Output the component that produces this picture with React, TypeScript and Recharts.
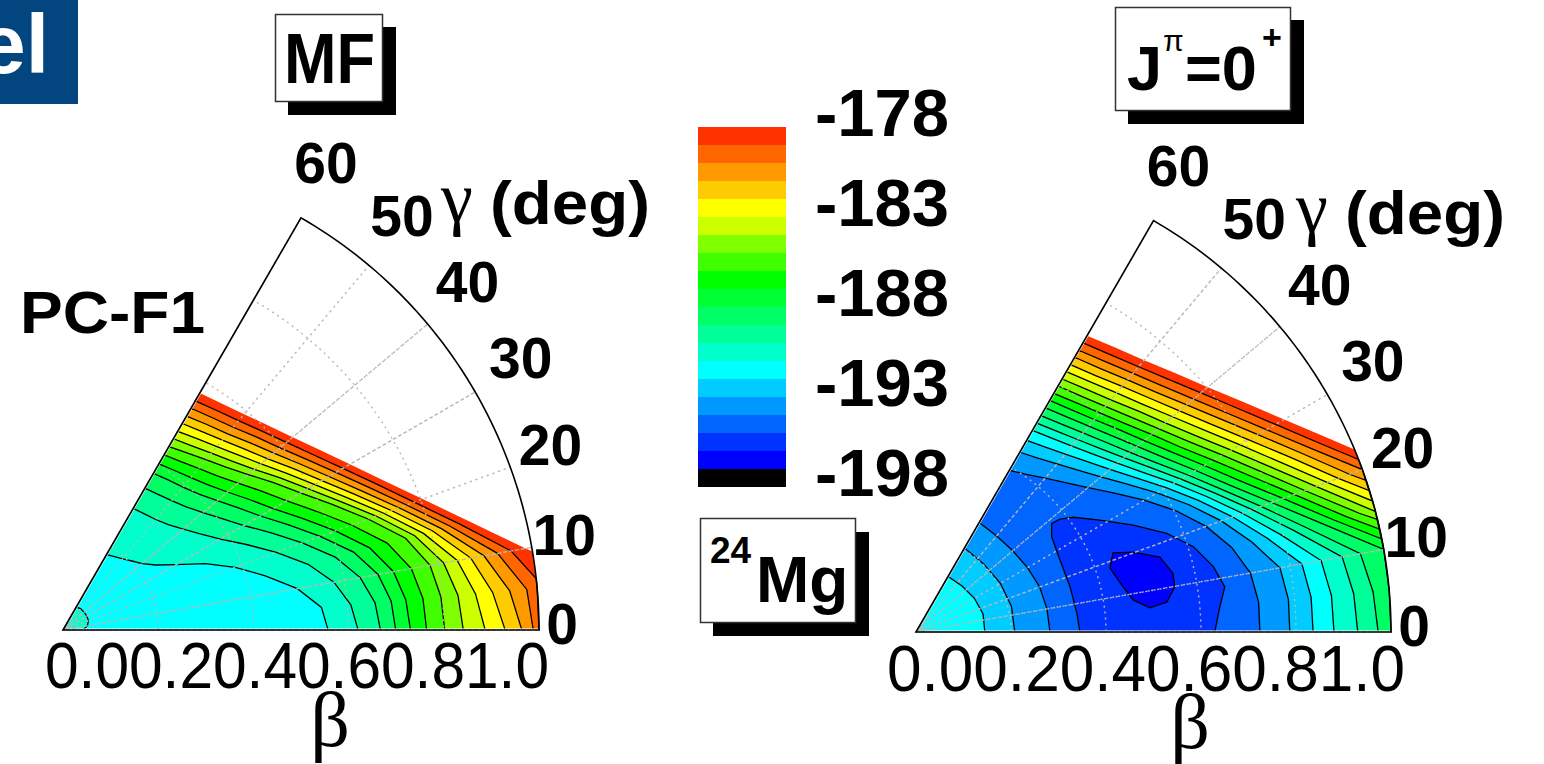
import React from 'react';
import {
  RadarChart,
  Radar,
  PolarAngleAxis,
  PolarRadiusAxis,
  BarChart,
  Bar,
  XAxis,
  YAxis,
  Cell,
} from 'recharts';

type Pt = [number, number]; // [gamma in deg, beta]
type Kind = 'wedge' | 'ring' | 'cap' | 'island';

interface Contour {
  level: number;
  kind: Kind;
  pts: Pt[];
  inner?: Pt[];
}

interface Row {
  g: number;
  b?: number | null;
  id?: string;
}

const W = 1544;
const H = 764;
const SANS = '"Liberation Sans", Arial, sans-serif';
const SERIF = '"Liberation Serif", "Times New Roman", serif';

const GAMMA_TICKS = [0, 10, 20, 30, 40, 50, 60];
const BETA_TICKS = [0, 0.2, 0.4, 0.6, 0.8, 1.0];

// one colour per 1 MeV band, from -178 down to -198
const BAND_COLORS = [
  '#ff3300', '#ff6600', '#ff9900', '#ffcc00', '#ffff00',
  '#ccff00', '#80ff00', '#40ff00', '#00ff00', '#00ff33',
  '#00ff66', '#00ff99', '#00ffcc', '#00ffff', '#00ccff',
  '#0099ff', '#0066ff', '#0033ff', '#0000ff', '#000000',
];

const COLORBAR_LEVELS = [
  -178, -179, -180, -181, -182, -183, -184, -185, -186, -187, -188,
  -189, -190, -191, -192, -193, -194, -195, -196, -197, -198,
];

// mean-field surface (left)
const MF_CONTOURS: Contour[] = [
  { level: -178, kind: 'wedge', pts: [[0, 1], [5, 1], [9.5, 1], [10, 0.987], [15, 0.883], [20, 0.804], [25, 0.743], [30, 0.696], [35, 0.659], [40, 0.63], [45, 0.608], [50, 0.592], [55, 0.581], [60, 0.575]] },
  { level: -179, kind: 'wedge', pts: [[0, 1], [5, 1], [6.2, 1], [10, 0.956], [15, 0.862], [20, 0.785], [25, 0.726], [30, 0.679], [35, 0.642], [40, 0.613], [45, 0.591], [50, 0.574], [55, 0.563], [60, 0.556]] },
  { level: -180, kind: 'wedge', pts: [[0, 0.988], [5, 0.978], [10, 0.927], [15, 0.842], [20, 0.768], [25, 0.709], [30, 0.662], [35, 0.625], [40, 0.595], [45, 0.574], [50, 0.556], [55, 0.545], [60, 0.538]] },
  { level: -181, kind: 'wedge', pts: [[0, 0.964], [5, 0.942], [10, 0.898], [15, 0.823], [20, 0.751], [25, 0.692], [30, 0.645], [35, 0.608], [40, 0.578], [45, 0.556], [50, 0.538], [55, 0.527], [60, 0.519]] },
  { level: -182, kind: 'wedge', pts: [[0, 0.929], [5, 0.906], [10, 0.87], [15, 0.804], [20, 0.734], [25, 0.675], [30, 0.628], [35, 0.591], [40, 0.56], [45, 0.538], [50, 0.521], [55, 0.509], [60, 0.501]] },
  { level: -183, kind: 'wedge', pts: [[0, 0.887], [5, 0.87], [10, 0.841], [15, 0.784], [20, 0.717], [25, 0.658], [30, 0.611], [35, 0.574], [40, 0.543], [45, 0.52], [50, 0.503], [55, 0.491], [60, 0.482]] },
  { level: -184, kind: 'wedge', pts: [[0, 0.841], [5, 0.833], [10, 0.812], [15, 0.765], [20, 0.7], [25, 0.641], [30, 0.594], [35, 0.557], [40, 0.525], [45, 0.502], [50, 0.485], [55, 0.472], [60, 0.464]] },
  { level: -185, kind: 'wedge', pts: [[0, 0.802], [5, 0.797], [10, 0.783], [15, 0.745], [20, 0.682], [25, 0.624], [30, 0.576], [35, 0.54], [40, 0.508], [45, 0.484], [50, 0.467], [55, 0.454], [60, 0.445]] },
  { level: -186, kind: 'wedge', pts: [[0, 0.764], [5, 0.759], [10, 0.743], [15, 0.705], [20, 0.645], [25, 0.589], [30, 0.543], [35, 0.509], [40, 0.48], [45, 0.458], [50, 0.443], [55, 0.432], [60, 0.425]] },
  { level: -187, kind: 'wedge', pts: [[0, 0.73], [5, 0.723], [10, 0.705], [15, 0.667], [20, 0.609], [25, 0.555], [30, 0.51], [35, 0.478], [40, 0.451], [45, 0.431], [50, 0.418], [55, 0.409], [60, 0.403]] },
  { level: -188, kind: 'wedge', pts: [[0, 0.699], [5, 0.692], [10, 0.672], [15, 0.632], [20, 0.575], [25, 0.523], [30, 0.479], [35, 0.448], [40, 0.423], [45, 0.404], [50, 0.392], [55, 0.385], [60, 0.38]] },
  { level: -189, kind: 'wedge', pts: [[0, 0.667], [5, 0.658], [10, 0.634], [15, 0.592], [20, 0.535], [25, 0.483], [30, 0.439], [35, 0.408], [40, 0.384], [45, 0.366], [50, 0.355], [55, 0.348], [60, 0.344]] },
  { level: -190, kind: 'wedge', pts: [[0, 0.62], [5, 0.607], [10, 0.578], [15, 0.533], [20, 0.477], [25, 0.425], [30, 0.382], [35, 0.352], [40, 0.33], [45, 0.313], [50, 0.303], [55, 0.298], [60, 0.295]] },
  {
    level: -191, kind: 'ring',
    pts: [[0, 0.557], [5, 0.545], [10, 0.5], [15, 0.44], [20, 0.385], [25, 0.33], [30, 0.275], [35, 0.238], [40, 0.217], [45, 0.205], [50, 0.195], [55, 0.188], [60, 0.183]],
    inner: [[60, 0.056], [50, 0.058], [40, 0.058], [30, 0.058], [20, 0.057], [10, 0.052], [0, 0.042]],
  },
];

// projected J = 0+ surface (right)
const J0_CONTOURS: Contour[] = [
  { level: -178, kind: 'wedge', pts: [[0, 1], [5, 1], [10, 1], [15, 1], [20, 1], [22.6, 1], [25, 0.962], [30, 0.895], [35, 0.843], [40, 0.802], [45, 0.771], [50, 0.747], [55, 0.731], [60, 0.72]] },
  { level: -179, kind: 'wedge', pts: [[0, 1], [5, 1], [10, 1], [15, 1], [20, 1], [21.3, 1], [25, 0.939], [30, 0.874], [35, 0.823], [40, 0.783], [45, 0.752], [50, 0.729], [55, 0.713], [60, 0.703]] },
  { level: -180, kind: 'wedge', pts: [[0, 1], [5, 1], [10, 1], [15, 1], [20, 1], [25, 0.916], [30, 0.852], [35, 0.802], [40, 0.763], [45, 0.733], [50, 0.711], [55, 0.695], [60, 0.685]] },
  { level: -181, kind: 'wedge', pts: [[0, 1], [5, 1], [10, 1], [15, 1], [18.6, 1], [20, 0.971], [25, 0.893], [30, 0.831], [35, 0.782], [40, 0.744], [45, 0.714], [50, 0.693], [55, 0.677], [60, 0.668]] },
  { level: -182, kind: 'wedge', pts: [[0, 1], [5, 1], [10, 1], [15, 1], [17.3, 1], [20, 0.946], [25, 0.870], [30, 0.809], [35, 0.761], [40, 0.724], [45, 0.696], [50, 0.675], [55, 0.659], [60, 0.65]] },
  { level: -183, kind: 'wedge', pts: [[0, 1], [5, 1], [10, 1], [15, 1], [16, 1], [20, 0.921], [25, 0.846], [30, 0.788], [35, 0.741], [40, 0.705], [45, 0.677], [50, 0.657], [55, 0.642], [60, 0.633]] },
  { level: -184, kind: 'wedge', pts: [[0, 1], [5, 1], [10, 1], [14.7, 1], [15, 0.993], [20, 0.896], [25, 0.823], [30, 0.766], [35, 0.72], [40, 0.685], [45, 0.659], [50, 0.638], [55, 0.624], [60, 0.615]] },
  { level: -185, kind: 'wedge', pts: [[0, 1], [5, 1], [10, 1], [13.7, 1], [15, 0.966], [20, 0.871], [25, 0.8], [30, 0.745], [35, 0.7], [40, 0.666], [45, 0.64], [50, 0.62], [55, 0.606], [60, 0.598]] },
  { level: -186, kind: 'wedge', pts: [[0, 1], [5, 1], [10, 1], [12.5, 1], [15, 0.938], [20, 0.847], [25, 0.777], [30, 0.723], [35, 0.679], [40, 0.647], [45, 0.621], [50, 0.602], [55, 0.589], [60, 0.58]] },
  { level: -187, kind: 'wedge', pts: [[0, 1], [5, 1], [10, 1], [11.3, 1], [15, 0.911], [20, 0.822], [25, 0.753], [30, 0.701], [35, 0.659], [40, 0.627], [45, 0.603], [50, 0.584], [55, 0.571], [60, 0.563]] },
  { level: -188, kind: 'wedge', pts: [[0, 1], [5, 1], [10, 1], [15, 0.884], [20, 0.797], [25, 0.73], [30, 0.68], [35, 0.639], [40, 0.608], [45, 0.584], [50, 0.566], [55, 0.553], [60, 0.545]] },
  { level: -189, kind: 'wedge', pts: [[0, 0.973], [5, 0.966], [10, 0.95], [15, 0.85], [20, 0.773], [25, 0.71], [30, 0.661], [35, 0.62], [40, 0.588], [45, 0.565], [50, 0.547], [55, 0.534], [60, 0.526]] },
  { level: -190, kind: 'wedge', pts: [[0, 0.93], [5, 0.925], [10, 0.911], [15, 0.824], [20, 0.753], [25, 0.693], [30, 0.644], [35, 0.603], [40, 0.571], [45, 0.547], [50, 0.529], [55, 0.516], [60, 0.508]] },
  { level: -191, kind: 'wedge', pts: [[0, 0.88], [5, 0.878], [10, 0.866], [15, 0.794], [20, 0.731], [25, 0.675], [30, 0.627], [35, 0.585], [40, 0.553], [45, 0.529], [50, 0.511], [55, 0.498], [60, 0.49]] },
  {
    level: -192, kind: 'ring',
    pts: [[0, 0.836], [5, 0.835], [10, 0.825], [15, 0.765], [20, 0.709], [25, 0.656], [30, 0.608], [35, 0.566], [40, 0.533], [45, 0.508], [50, 0.489], [55, 0.475], [60, 0.466]],
    inner: [[60, 0.135], [45, 0.137], [30, 0.142], [15, 0.146], [0, 0.145]],
  },
  {
    level: -193, kind: 'ring',
    pts: [[0, 0.787], [5, 0.787], [10, 0.778], [15, 0.732], [20, 0.684], [25, 0.634], [30, 0.586], [35, 0.543], [40, 0.508], [45, 0.482], [50, 0.462], [55, 0.447], [60, 0.437]],
    inner: [[60, 0.204], [45, 0.202], [30, 0.205], [15, 0.208], [0, 0.208]],
  },
  {
    level: -194, kind: 'ring',
    pts: [[0, 0.724], [5, 0.724], [10, 0.715], [15, 0.688], [20, 0.65], [25, 0.604], [30, 0.555], [35, 0.51], [40, 0.473], [45, 0.445], [50, 0.423], [55, 0.405], [60, 0.393]],
    inner: [[60, 0.266], [50, 0.264], [40, 0.266], [30, 0.271], [20, 0.277], [10, 0.28], [0, 0.282]],
  },
  { level: -195, kind: 'cap', pts: [[0, 0.345], [6.6, 0.341], [16.4, 0.338], [26.6, 0.339], [35.1, 0.349], [38.7, 0.366], [38.1, 0.385], [36.1, 0.41], [31.3, 0.453], [26.2, 0.51], [21.5, 0.567], [17.1, 0.611], [12.4, 0.641], [8.3, 0.657], [4.8, 0.642], [0, 0.629]] },
  { level: -196, kind: 'island', pts: [[21.9, 0.447], [20.2, 0.487], [17.1, 0.537], [12.9, 0.555], [9.9, 0.553], [6.8, 0.532], [5.9, 0.495], [8.4, 0.462], [13.5, 0.442], [18.3, 0.43]] },
];

function bandColor(level: number) {
  return BAND_COLORS[Math.min(19, Math.max(0, -178 - level))];
}

// Rows that do not belong to a series land on the pole, so every open path
// below starts and ends on one of the two straight edges of the sector.
function rowAdder(rows: Row[]) {
  return (id: string, pts: Pt[]) => {
    pts.forEach(([g, b]) => rows.push({ g, b, id }));
    rows.push({ g: 0 });
  };
}

function buildFillRows(contours: Contour[]): Row[] {
  const rows: Row[] = [];
  const add = rowAdder(rows);
  contours.forEach((c, i) => {
    if (c.kind === 'island') return;
    let pts: Pt[] = c.pts;
    if (c.kind === 'wedge') pts = [...c.pts, [60, 0]];
    if (c.kind === 'ring') pts = [...c.pts, ...(c.inner ?? [])];
    add(`f${i}`, pts);
  });
  return rows;
}

function buildLineRows(contours: Contour[]): Row[] {
  const rows: Row[] = [];
  const add = rowAdder(rows);
  contours.forEach((c, i) => {
    if (i === 0 || c.kind === 'island') return; // outermost level has no black line
    add('line', c.pts);
    if (c.inner) add('line', c.inner);
  });
  add('mask', [[0, 1]]);
  add('mask', [[60, 1]]);
  BETA_TICKS.slice(1, -1).forEach((b) => {
    const arc: Pt[] = [];
    for (let g = 0; g <= 60; g += 2) arc.push([g, b]);
    add('grid', arc);
  });
  GAMMA_TICKS.forEach((g) => add('grid', [[g, 0], [g, 1]]));
  const rim: Pt[] = [];
  for (let g = 0; g <= 60; g += 1) rim.push([g, 1]);
  add('rim', rim);
  return rows;
}

const pick = (id: string) => (r: Row) => (r.id === id ? r.b ?? null : null);

function renderGammaTick(props: any) {
  const { x, y, payload } = props;
  const v = Number(payload.value);
  const a = (Number(payload.coordinate) * Math.PI) / 180;
  const extra = 30 * Math.min(1, v / 30);
  return (
    <text
      x={x + extra * Math.cos(a) - 3}
      y={y - extra * Math.sin(a) - 6}
      textAnchor="middle"
      dominantBaseline="central"
      fontFamily={SANS}
      fontWeight="bold"
      fontSize={57}
      fill="#000"
    >
      {v}
    </text>
  );
}

const seriesProps = { dot: false, activeDot: false, isAnimationActive: false, legendType: 'none' as const };

function PolarLayer({
  rows, cx, cy, r, showTicks, children,
}: { rows: Row[]; cx: number; cy: number; r: number; showTicks?: boolean; children: React.ReactNode }) {
  return (
    <div style={{ position: 'absolute', left: 0, top: 0 }}>
      <RadarChart
        width={W}
        height={H}
        data={rows}
        cx={cx}
        cy={cy}
        startAngle={0}
        endAngle={60}
        innerRadius={0}
        outerRadius={r}
        margin={{ top: 0, right: 0, bottom: 0, left: 0 }}
      >
        <PolarAngleAxis
          type="number"
          dataKey="g"
          domain={[0, 60]}
          ticks={GAMMA_TICKS}
          axisLine={false}
          tickLine={false}
          tickSize={26}
          tick={showTicks ? renderGammaTick : false}
        />
        <PolarRadiusAxis type="number" domain={[0, 1]} allowDataOverflow tick={false} axisLine={false} />
        {children}
      </RadarChart>
    </div>
  );
}

function Panel({ contours, cx, cy, r }: { contours: Contour[]; cx: number; cy: number; r: number }) {
  const fillRows = buildFillRows(contours);
  const lineRows = buildLineRows(contours);
  const islands = contours.filter((c) => c.kind === 'island');
  return (
    <>
      <PolarLayer rows={fillRows} cx={cx} cy={cy} r={r}>
        {contours.map((c, i) =>
          c.kind === 'island' ? null : (
            <Radar
              key={`f${i}`}
              dataKey={pick(`f${i}`)}
              fill={bandColor(c.level)}
              fillOpacity={1}
              stroke="none"
              {...seriesProps}
            />
          ),
        )}
      </PolarLayer>
      {islands.map((c) => (
        <PolarLayer key={c.level} rows={c.pts.map(([g, b]) => ({ g, b }))} cx={cx} cy={cy} r={r}>
          <Radar dataKey="b" fill={bandColor(c.level)} fillOpacity={1} stroke="#000" strokeWidth={1.3} {...seriesProps} />
        </PolarLayer>
      ))}
      <PolarLayer rows={lineRows} cx={cx} cy={cy} r={r} showTicks>
        <Radar dataKey={pick('line')} fill="none" stroke="#000" strokeWidth={1.3} {...seriesProps} />
        <Radar dataKey={pick('mask')} fill="none" stroke="#fff" strokeWidth={2.8} {...seriesProps} />
        <Radar dataKey={pick('grid')} fill="none" stroke="#b8b8b8" strokeWidth={1.4} strokeDasharray="2 4" {...seriesProps} />
        <Radar dataKey={pick('rim')} fill="none" stroke="#000" strokeWidth={1.6} {...seriesProps} />
      </PolarLayer>
    </>
  );
}

const colorbarRows = COLORBAR_LEVELS.map((lv, i) => ({
  label: String(lv),
  v: 1,
  color: i === 0 ? 'none' : BAND_COLORS[i - 1],
}));

function renderBarTick(props: any) {
  const { x, y, payload } = props;
  return (
    <text x={x} y={y - 6} dominantBaseline="central" fontFamily={SANS} fontWeight="bold" fontSize={67} fill="#000">
      {payload.value}
    </text>
  );
}

function Colorbar() {
  return (
    <div style={{ position: 'absolute', left: 698, top: 79 }}>
      <BarChart
        width={250}
        height={438}
        data={colorbarRows}
        layout="vertical"
        barCategoryGap={0}
        margin={{ top: 30, right: 0, bottom: 30, left: 0 }}
      >
        <XAxis type="number" domain={[0, 1]} hide />
        <YAxis
          type="category"
          dataKey="label"
          orientation="right"
          width={162}
          axisLine={false}
          tickLine={false}
          tickSize={0}
          tickMargin={29}
          interval={4}
          tick={renderBarTick}
        />
        <Bar dataKey="v" isAnimationActive={false}>
          {colorbarRows.map((b) => (
            <Cell key={b.label} fill={b.color} />
          ))}
        </Bar>
      </BarChart>
    </div>
  );
}

function Annotations() {
  const betaText = BETA_TICKS.map((t) => t.toFixed(1)).join('');
  return (
    <svg width={W} height={H} style={{ position: 'absolute', left: 0, top: 0 }}>
      <rect x={0} y={0} width={78} height={104} fill="#03457f" />
      <text x={-21} y={73} fill="#fff" fontFamily={SANS} fontWeight="bold" fontSize={84}>el</text>

      <rect x={288} y={27} width={108} height={88} fill="#000" />
      <rect x={275.5} y={14.5} width={107} height={87} fill="#fff" stroke="#333" strokeWidth={1.5} />
      <text x={284} y={83} fontFamily={SANS} fontWeight="bold" fontSize={70} textLength={91} lengthAdjust="spacingAndGlyphs">MF</text>

      <rect x={1128} y={20} width={176} height={104} fill="#000" />
      <rect x={1115.5} y={7.5} width={175} height={103} fill="#fff" stroke="#333" strokeWidth={1.5} />
      <text x={1127} y={90} fontFamily={SANS} fontWeight="bold" fontSize={63}>J</text>
      <text x={1163} y={51} fontFamily={SANS} fontSize={30}>π</text>
      <text x={1185} y={90} fontFamily={SANS} fontWeight="bold" fontSize={63} textLength={72} lengthAdjust="spacingAndGlyphs">=0</text>
      <text x={1262} y={49} fontFamily={SANS} fontWeight="bold" fontSize={34}>+</text>

      <rect x={713} y={532} width={156} height={104} fill="#000" />
      <rect x={700.5} y={518.5} width={155} height={104} fill="#fff" stroke="#333" strokeWidth={1.5} />
      <text x={710} y={563} fontFamily={SANS} fontWeight="bold" fontSize={37}>24</text>
      <text x={756} y={602} fontFamily={SANS} fontWeight="bold" fontSize={64}>Mg</text>

      <text x={20} y={333} fontFamily={SANS} fontWeight="bold" fontSize={60} textLength={185} lengthAdjust="spacingAndGlyphs">PC-F1</text>

      <text x={441} y={222} fontFamily={SERIF} fontSize={72}>γ</text>
      <text x={490} y={224} fontFamily={SANS} fontWeight="bold" fontSize={62} textLength={160} lengthAdjust="spacingAndGlyphs">(deg)</text>
      <text x={1296} y={232} fontFamily={SERIF} fontSize={72}>γ</text>
      <text x={1345} y={234} fontFamily={SANS} fontWeight="bold" fontSize={62} textLength={160} lengthAdjust="spacingAndGlyphs">(deg)</text>

      <text x={45} y={688} fontFamily={SANS} fontSize={64} textLength={504} lengthAdjust="spacingAndGlyphs">{betaText}</text>
      <text x={887} y={691} fontFamily={SANS} fontSize={64} textLength={518} lengthAdjust="spacingAndGlyphs">{betaText}</text>
      <text x={330} y={746} textAnchor="middle" fontFamily={SERIF} fontSize={78}>β</text>
      <text x={1190} y={748} textAnchor="middle" fontFamily={SERIF} fontSize={78}>β</text>
    </svg>
  );
}

export default function App() {
  return (
    <div style={{ position: 'absolute', left: 0, top: 0, width: W, height: H, background: '#fff', overflow: 'hidden' }}>
      <Panel contours={MF_CONTOURS} cx={63} cy={630} r={476} />
      <Panel contours={J0_CONTOURS} cx={916} cy={632} r={475} />
      <Colorbar />
      <Annotations />
    </div>
  );
}
